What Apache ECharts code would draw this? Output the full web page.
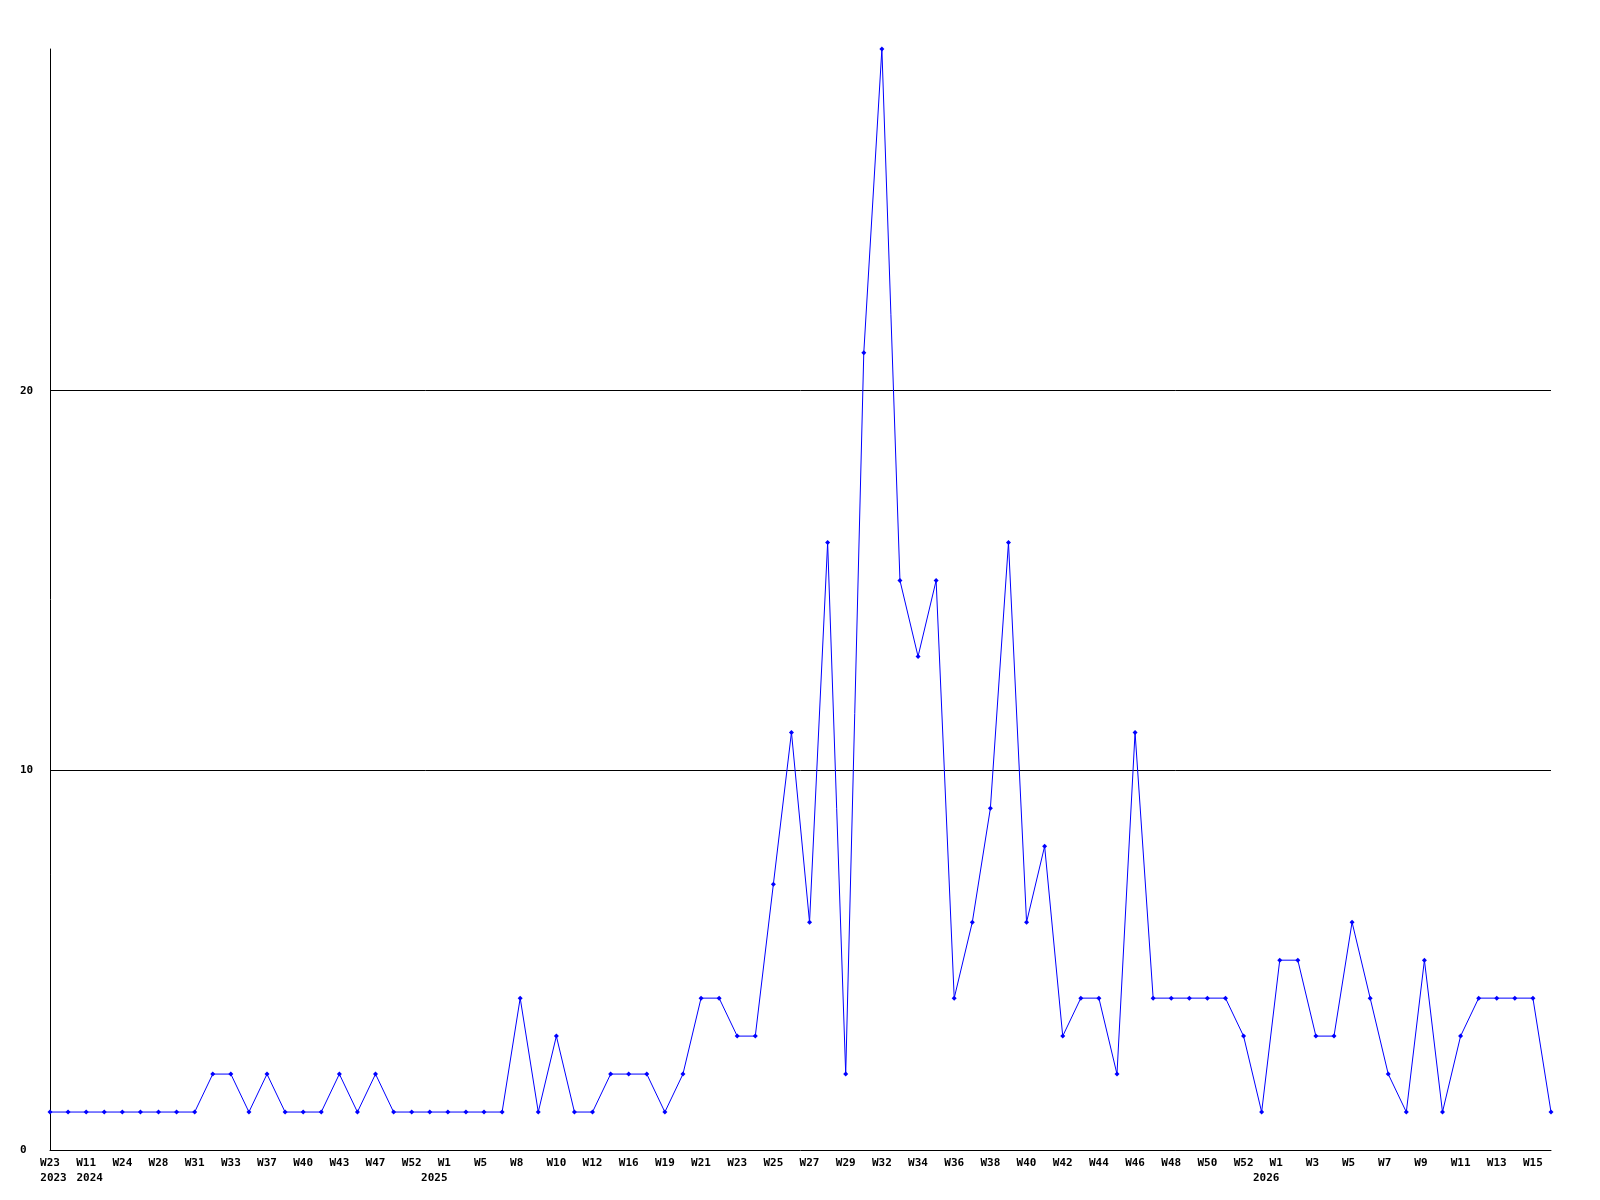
<!DOCTYPE html>
<html>
<head>
<meta charset="utf-8">
<script src="https://cdn.jsdelivr.net/npm/echarts@6/dist/echarts.min.js"></script>
<style>
  html, body { margin: 0; padding: 0; background: #ffffff; }
  #chart { width: 1600px; height: 1200px; }
</style>
</head>
<body>
<div id="chart"></div>
<script>
// Week categories (every other one is shown on the axis)
const weeks = [
  'W23','W44','W11','W18','W24','W26','W28','W30','W31','W32',
  'W33','W35','W37','W39','W40','W42','W43','W45','W47','W50',
  'W52','W53','W1','W3','W5','W7','W8','W9','W10','W11',
  'W12','W14','W16','W18','W19','W20','W21','W22','W23','W24',
  'W25','W26','W27','W28','W29','W31','W32','W33','W34','W35',
  'W36','W37','W38','W39','W40','W41','W42','W43','W44','W45',
  'W46','W47','W48','W49','W50','W51','W52','W53','W1','W2',
  'W3','W4','W5','W6','W7','W8','W9','W10','W11','W12',
  'W13','W14','W15','W16'
];
// Year annotation shown under a week label (empty when none)
const yearLabels = {0: '2023', 2: '2024', 22: '2025', 68: '2026'};
// Weekly counts
const counts = [
  1,1,1,1,1,1,1,1,1,2,
  2,1,2,1,1,1,2,1,2,1,
  1,1,1,1,1,1,4,1,3,1,
  1,2,2,2,1,2,4,4,3,3,
  7,11,6,16,2,21,29,15,13,15,
  4,6,9,16,6,8,3,4,4,2,
  11,4,4,4,4,4,3,1,5,5,
  3,3,6,4,2,1,5,1,3,4,
  4,4,4,1
];
const yTicks = [0, 10, 20];

const chart = echarts.init(document.getElementById('chart'), null, {renderer: 'canvas'});
const font = '"DejaVu Sans Mono", monospace';
const tok = {fontFamily: font, fontWeight: 'bold', fontSize: 11, color: '#000000', lineHeight: 15};
chart.setOption({
  animation: false,
  backgroundColor: '#ffffff',
  grid: {left: 50, right: 49, top: 49, bottom: 50, containLabel: false},
  xAxis: {
    type: 'category',
    data: weeks,
    boundaryGap: false,
    axisLine: {lineStyle: {color: '#000000', width: 1}},
    axisTick: {show: false},
    axisLabel: {
      interval: 1,
      margin: 6,
      color: '#000000',
      fontFamily: font,
      fontWeight: 'bold',
      fontSize: 11,
      lineHeight: 15,
      rich: {
        w: tok,
        w2: Object.assign({padding: [0, 7, 0, 0]}, tok),
        yl: Object.assign({padding: [0, 0, 0, 7]}, tok),
        yr: Object.assign({padding: [0, 27, 0, 0]}, tok)
      },
      formatter: function (v, i) {
        const wk = v.length < 3 ? '{w2|' + v + '}' : '{w|' + v + '}';
        if (!yearLabels[i]) return wk;
        const yr = v.length < 3 ? '{yr|' + yearLabels[i] + '}' : '{yl|' + yearLabels[i] + '}';
        return wk + '\n' + yr;
      }
    },
    splitLine: {show: false}
  },
  yAxis: {
    type: 'value',
    min: 0,
    max: 29,
    interval: 10,
    axisLine: {show: true, lineStyle: {color: '#000000', width: 1}},
    axisTick: {show: false},
    axisLabel: {
      align: 'left',
      margin: 30,
      color: '#000000',
      fontFamily: font,
      fontWeight: 'bold',
      fontSize: 11,
      showMaxLabel: false,
      formatter: function (v) { return yTicks.indexOf(v) >= 0 ? String(v) : ''; }
    },
    splitLine: {show: true, showMinLine: false, showMaxLine: false, lineStyle: {color: '#000000', width: 1}}
  },
  series: [{
    type: 'line',
    data: counts,
    symbol: 'diamond',
    symbolSize: 5,
    showAllSymbol: true,
    lineStyle: {color: '#0000ff', width: 1},
    itemStyle: {color: '#0000ff'},
    clip: false
  }]
});
</script>
</body>
</html>
